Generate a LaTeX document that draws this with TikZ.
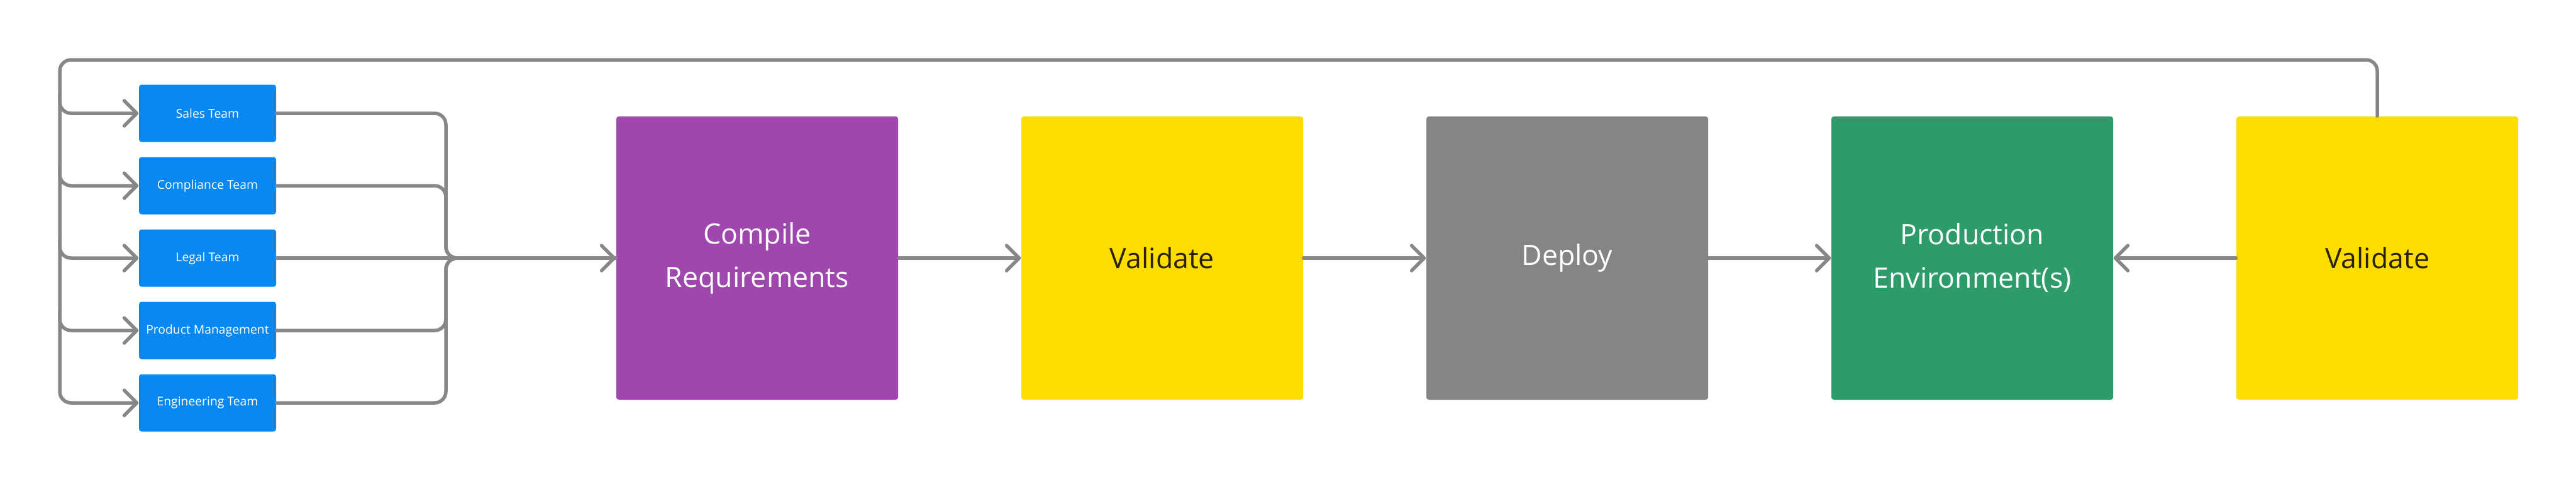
\documentclass[tikz,border=0pt]{standalone}
\usepackage{fontspec}
\setmainfont{Open Sans}
\usetikzlibrary{arrows.meta,calc}
\definecolor{teamblue}{HTML}{0888F0}
\definecolor{compurple}{HTML}{A046AF}
\definecolor{valyellow}{HTML}{FDDC00}
\definecolor{depgray}{HTML}{858585}
\definecolor{prodgreen}{HTML}{2D9B6A}
\definecolor{linegray}{HTML}{878787}
\definecolor{darktext}{HTML}{2A2200}
\begin{document}
\begin{tikzpicture}[
  box/.style={rectangle, rounded corners=0.04cm, inner sep=0pt, align=center},
  team/.style={box, fill=teamblue, minimum width=2.18cm, minimum height=0.91cm, text=white, font=\fontsize{5.5}{6.6}\selectfont},
  stage/.style={box, minimum width=4.48cm, minimum height=4.5cm, font=\fontsize{12.7}{19.6}\selectfont},
  conn/.style={draw=linegray, line width=0.055cm, rounded corners=0.18cm, line cap=round},
  arr/.style={conn, -{Straight Barb[length=0.2cm,width=0.4cm,round]}},
]
\useasboundingbox (0,0) rectangle (40.96,-7.79);

% team nodes
\node[team] (sales) at (3.30,-1.80) {Sales Team};
\node[team] (compl) at (3.30,-2.95) {Compliance Team};
\node[team] (legal) at (3.30,-4.10) {Legal Team};
\node[team] (prodm) at (3.30,-5.25) {Product Management};
\node[team] (eng)   at (3.30,-6.40) {Engineering Team};

% stages
\node[stage, fill=compurple, text=white] (compreq) at (12.04,-4.10) {Compile\\Requirements};
\node[stage, fill=valyellow, text=darktext] (val1) at (18.48,-4.10) {Validate};
\node[stage, fill=depgray, text=white] (deploy) at (24.92,-4.10) {Deploy};
\node[stage, fill=prodgreen, text=white] (prodenv) at (31.36,-4.10) {Production\\Environment(s)};
\node[stage, fill=valyellow, text=darktext] (val2) at (37.80,-4.10) {Validate};

% coordinates
\coordinate (tl) at (0.95,-0.95);
\coordinate (bl) at (0.95,-6.40);
\coordinate (cx) at (7.09,-4.10);

% feedback loop and trunk
\draw[arr] (val2.north) |- (tl) -- (bl) -- (eng.west);
\foreach \t in {sales,compl,legal,prodm}{
  \draw[arr] ($(tl |- \t.west)+(0,0.3)$) -- (tl |- \t.west) -- (\t.west);
}

% collector
\draw[conn] (sales.east) -| (cx) -- (compreq.west);
\draw[conn] (compl.east) -| (cx) -- (compreq.west);
\draw[conn] (prodm.east) -| (cx) -- (compreq.west);
\draw[conn] (eng.east) -| (cx) -- (compreq.west);
\draw[arr] (legal.east) -- (compreq.west);

% main flow
\draw[arr] (compreq.east) -- (val1.west);
\draw[arr] (val1.east) -- (deploy.west);
\draw[arr] (deploy.east) -- (prodenv.west);
\draw[arr] (val2.west) -- (prodenv.east);
\end{tikzpicture}
\end{document}
